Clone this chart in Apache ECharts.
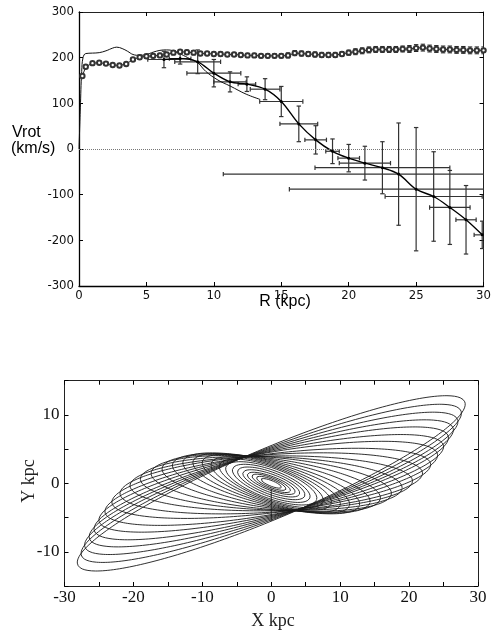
<!DOCTYPE html>
<html><head><meta charset="utf-8">
<script src="https://cdn.jsdelivr.net/npm/echarts@6/dist/echarts.min.js"></script>
<style>html,body{margin:0;padding:0;background:#fff}#c{width:494px;height:635px}</style>
</head><body><div id="c"></div>
<script>
// ---------- Top panel: rotation curve ----------
const circR = [0.25,0.5,1,1.5,2,2.5,3,3.5,4,4.5,5,5.5,6,6.5,7,7.5,8,8.5,9,9.5,10,10.5,11,11.5,12,12.5,13,13.5,14,14.5,15,15.5,16,16.5,17,17.5,18,18.5,19,19.5,20,20.5,21,21.5,22,22.5,23,23.5,24,24.5,25,25.5,26,26.5,27,27.5,28,28.5,29,29.5,30];
const circV = [160,180,188,189,187,184,183,186,196,201,203,204,205,207,211,213,212,211,209,209,208,208,207,207,206,205,205,204,204,204,204,205,210,209,208,207,206,206,206,208,211,213,215,217,218,218,218,218,219,219,221,222,220,219,218,218,217,217,216,216,216];
const circErr = [2,2,2,2,2,2,2,2,2,3,3,3,3,3,3,3,3,3,3,3,3,3,3,3,3,3,3,3,3,3,3,4,4,4,4,4,4,4,4,4,4,5,5,5,5,5,5,5,5,6,6,6,6,6,6,6,6,6,6,6,6];

const modelR = [0,0.1,0.2,0.3,0.5,1,1.5,2,2.5,2.8,3.2,3.6,4,4.5,5,5.5,6,6.5,7,7.6,8.2,8.8,9.4,10.3,11.2,12.4,13.4];
const modelV = [0,90,170,200,209,210,211,215,221,223,220,214,207,205,207,212,216,217,215,207,198,189,170,151,138,120,109];

const obsR  = [6.3,7.5,8.8,10.0,11.2,12.45,13.8,15.0,16.3,17.55,18.8,20.0,21.2,22.5,23.7,25.0,26.3,27.5,28.7,29.9];
const obsV  = [196,198,191,166,147,142,131,104,55,20,-5,-20,-31,-41,-55,-88,-104,-128,-155,-188];
const obsDR = [1.2,0.8,1.7,2.0,1.2,0.65,1.1,1.6,1.4,0.8,0.5,0.8,1.9,5.0,13,9.4,3.6,1.5,0.75,0.6];
const obsDV = [18,12,26,30,22,16,23,33,39,31,27,30,37,57,112,135,98,81,75,30];

const topXTicks = {min:0, max:30, interval:5};
const topYTicks = {min:-300, max:300, interval:100};

// ---------- Bottom panel: orbits ----------
const orbitA    = [1.6,2.3,3.0,3.7,4.4,5.2,6.0,7.0,8.0,9.2,10.5,11.8,13.2,14.6,16.0,17.5,19.0,20.5,22.0,23.3,24.5,25.6,26.6,27.6,28.6,29.5,30.5];
const orbitB    = [0.4,0.6,0.8,1.0,1.3,1.6,1.9,2.2,2.4,2.6,2.8,3.0,3.2,3.4,3.6,3.8,3.9,4.0,4.2,4.3,4.5,4.6,4.7,4.8,4.9,5.0,5.1];
const orbitTilt = [-22,-22,-22,-21,-21,-21,-21,-20,-20,-19,-18,-16,-14,-11,-8,-5,-2,1,4,7,10,12.5,15,17,19,21,23];
const stemX = [0,0];
const stemY = [-0.8,-5.5];
const botXTicks = {min:-30, max:30, interval:5};
const botYTicks = {min:-15, max:15, interval:5};

// ---------- build ----------
const chart = echarts.init(document.getElementById('c'), null, {renderer:'canvas'});
const sansNarrow = '"DejaVu Sans Condensed","Liberation Sans Narrow",sans-serif';
const serif = '"Liberation Serif","DejaVu Serif",serif';

function axis(extra, labelOpt, lineW, lineC) {
  return Object.assign({
    type:'value', splitLine:{show:false},
    axisLine:{show:true, onZero:false, lineStyle:{color:lineC||'#000', width:lineW||1}},
    axisTick:{show:true, inside:true, length:4, lineStyle:{color:'#000', width:1}},
    axisLabel: labelOpt ? Object.assign({showMinLabel:true, showMaxLabel:true, color:'#111'}, labelOpt) : {show:false}
  }, extra);
}

function errRender(col, lw) {
  return function(params, api) {
    const x = api.value(0), y = api.value(1), dx = api.value(2), dy = api.value(3);
    const ch = []; const cap = 2.2;
    const st = {stroke:col, lineWidth:lw};
    if (dy > 0) {
      const t = api.coord([x, y+dy]), b = api.coord([x, y-dy]);
      ch.push({type:'line', shape:{x1:t[0],y1:t[1],x2:b[0],y2:b[1]}, style:st});
      ch.push({type:'line', shape:{x1:t[0]-cap,y1:t[1],x2:t[0]+cap,y2:t[1]}, style:st});
      ch.push({type:'line', shape:{x1:b[0]-cap,y1:b[1],x2:b[0]+cap,y2:b[1]}, style:st});
    }
    if (dx > 0) {
      const l = api.coord([x-dx, y]), r = api.coord([x+dx, y]);
      ch.push({type:'line', shape:{x1:l[0],y1:l[1],x2:r[0],y2:r[1]}, style:st});
      ch.push({type:'line', shape:{x1:l[0],y1:l[1]-cap,x2:l[0],y2:l[1]+cap}, style:st});
      ch.push({type:'line', shape:{x1:r[0],y1:r[1]-cap,x2:r[0],y2:r[1]+cap}, style:st});
    }
    return {type:'group', children:ch};
  };
}

const series = [];
series.push({
  type:'line', xAxisIndex:0, yAxisIndex:0, silent:true, z:1,
  data: [], showSymbol:false,
  markLine:{silent:true, symbol:'none', label:{show:false}, animation:false,
    lineStyle:{type:'dotted', color:'#777', width:1}, data:[{yAxis:0}]}
});
series.push({
  type:'custom', xAxisIndex:0, yAxisIndex:0, clip:true, silent:true, z:2,
  renderItem: errRender('#222', 1),
  encode:{x:0, y:1},
  data: circR.map((r,i)=>[r, circV[i], 0, circErr[i] + 1.5])
});
series.push({
  type:'line', xAxisIndex:0, yAxisIndex:0, silent:true, z:3,
  data: circR.map((r,i)=>[r, circV[i]]),
  symbol:'emptyCircle', symbolSize:4.4, showAllSymbol:true, showSymbol:true,
  lineStyle:{color:'#222', width:1},
  itemStyle:{color:'#333', borderColor:'#333', borderWidth:0.8}
});
series.push({
  type:'line', xAxisIndex:0, yAxisIndex:0, silent:true, smooth:0.4, z:3,
  data: modelR.map((r,i)=>[r, modelV[i]]), showSymbol:false,
  lineStyle:{color:'#111', width:1}
});
series.push({
  type:'custom', xAxisIndex:0, yAxisIndex:0, clip:true, silent:true, z:2,
  renderItem: errRender('#333', 1.2),
  encode:{x:0, y:1},
  data: obsR.map((r,i)=>[r, obsV[i], obsDR[i], obsDV[i]])
});
series.push({
  type:'line', xAxisIndex:0, yAxisIndex:0, silent:true, smooth:0.35, z:4,
  data: obsR.map((r,i)=>[r, obsV[i]]),
  symbol:'circle', symbolSize:3, itemStyle:{color:'#000'},
  lineStyle:{color:'#000', width:1.4}
});

// orbits
orbitA.forEach((a, k) => {
  const b = orbitB[k], th = orbitTilt[k] * Math.PI / 180;
  const pts = [];
  const n = 240;
  for (let i = 0; i <= n; i++) {
    const t = 2 * Math.PI * i / n;
    const u = a * Math.cos(t), v = b * Math.sin(t);
    pts.push([u*Math.cos(th) - v*Math.sin(th), u*Math.sin(th) + v*Math.cos(th)]);
  }
  series.push({type:'line', xAxisIndex:2, yAxisIndex:2, silent:true, data:pts,
    showSymbol:false, symbol:'none', lineStyle:{color:'#1a1a1a', width:0.9}});
});
series.push({type:'line', xAxisIndex:2, yAxisIndex:2, silent:true,
  data: stemX.map((x,i)=>[x, stemY[i]]), showSymbol:false, symbol:'none',
  lineStyle:{color:'#1a1a1a', width:0.9}});

const topLab = {fontFamily:sansNarrow, fontSize:13};
const botLab = {fontFamily:serif, fontSize:17, formatter: v => (Math.round(v) % 10 === 0 ? String(Math.round(v)) : '')};

chart.setOption({
  animation:false,
  backgroundColor:'#fff',
  grid:[
    {left:79, top:12, width:412, height:274},
    {left:64.5, top:380.7, width:413.5, height:205.3}
  ],
  xAxis:[
    axis(Object.assign({gridIndex:0, position:'bottom'}, topXTicks), Object.assign({margin:3}, topLab), 1.3, '#000'),
    axis(Object.assign({gridIndex:0, position:'top'}, topXTicks), null, 1, '#222'),
    axis(Object.assign({gridIndex:1, position:'bottom'}, botXTicks), Object.assign({margin:3}, botLab), 1, '#222'),
    axis(Object.assign({gridIndex:1, position:'top'}, botXTicks), null, 1, '#222')
  ],
  yAxis:[
    axis(Object.assign({gridIndex:0, position:'left'}, topYTicks), Object.assign({margin:5}, topLab), 1.3, '#000'),
    axis(Object.assign({gridIndex:0, position:'right'}, topYTicks), null, 1, '#222'),
    axis(Object.assign({gridIndex:1, position:'left'}, botYTicks), Object.assign({margin:5}, botLab), 1, '#222'),
    axis(Object.assign({gridIndex:1, position:'right'}, botYTicks), null, 1, '#222')
  ],
  graphic:[
    {type:'text', x:12, y:133, silent:true, style:{text:'Vrot', font:'16px "Liberation Sans", Arial, sans-serif', fill:'#000', verticalAlign:'middle'}},
    {type:'text', x:11, y:149, silent:true, style:{text:'(km/s)', font:'16px "Liberation Sans", Arial, sans-serif', fill:'#000', verticalAlign:'middle'}},
    {type:'text', x:285, y:302, silent:true, style:{text:'R (kpc)', font:'16px "Liberation Sans", Arial, sans-serif', fill:'#000', align:'center', verticalAlign:'middle'}},
    {type:'text', x:273, y:621, silent:true, style:{text:'X kpc', font:'18px "Liberation Serif", serif', fill:'#222', align:'center', verticalAlign:'middle'}},
    {type:'text', x:29, y:481, rotation:Math.PI/2, silent:true, style:{text:'Y kpc', font:'18px "Liberation Serif", serif', fill:'#222', align:'center', verticalAlign:'middle'}}
  ],
  series: series
});
</script></body></html>
